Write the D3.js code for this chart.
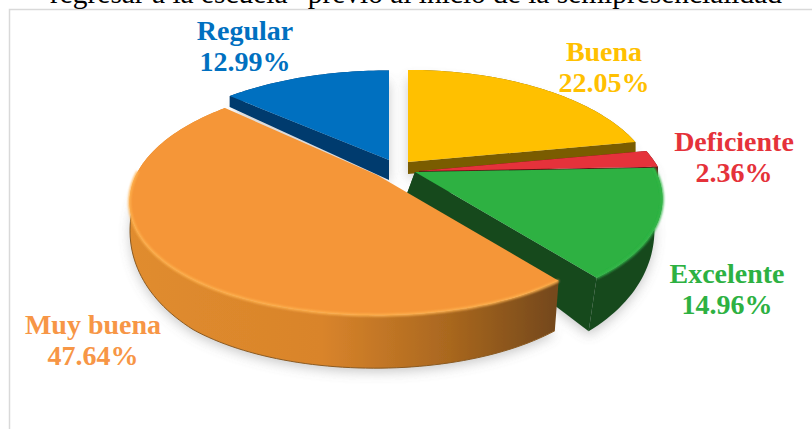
<!DOCTYPE html>
<html><head><meta charset="utf-8">
<style>html,body{margin:0;padding:0;background:#fff;overflow:hidden}svg{display:block}text{font-family:"Liberation Serif",serif}</style>
<script src="https://cdn.jsdelivr.net/npm/d3@7/dist/d3.min.js"></script>
</head><body><svg id="c" width="812" height="429"></svg>
<script>
const categories=["Buena","Deficiente","Excelente","Muy buena","Regular"];
const values=[22.05,2.36,14.96,47.64,12.99];
const titleText="regresar a la escuela\u201D previo al inicio de la semipresencialidad";
const topColors=["#ffc000","#e5323a","#2db142","#f59638","#0070c0"];
const wallColors=["#7a5c00","#5e1414","#17491f","#c67a28","#003a6e"];
const rimColors=["#ffd040","#f06060","#35b84a","#ffb24f","#1f86d0"];
const labelColors=["#ffc000","#e5323a","#2db142","#f79646","#0070c0"];
const apexX=[408,419,415,377,389];
const apexY=[162,171,172,175,160];
const persp=[0.227,0.227,0.227,0.227,0.15];
const radiusY=[113,113,113,113,103];
const depthMul=[0.6,0.5,1.07,1,1];
const shrink=[1,1,1,0.99,1];
const lean=[0,0,-8,-2,0];
const labelX=[604,734,727,93,245];
const labelY=[61,151,283,334,40];

const svg=d3.select("#c");
const defs=svg.append("defs");
defs.append("filter").attr("id","soft").append("feGaussianBlur").attr("stdDeviation",0.5);
const s5=defs.append("filter").attr("id","shadow").attr("x","-20%").attr("y","-20%").attr("width","140%").attr("height","140%");
s5.append("feGaussianBlur").attr("stdDeviation",6);
defs.append("filter").attr("id","rim").attr("x","-10%").attr("y","-10%").attr("width","120%").attr("height","120%").append("feGaussianBlur").attr("stdDeviation",1.2);
const og=defs.append("linearGradient").attr("id","wall3").attr("gradientUnits","userSpaceOnUse").attr("x1",130).attr("x2",556).attr("y1",0).attr("y2",0);
[[0,"#e08c2e"],[0.45,"#d9842b"],[0.75,"#a9671f"],[1,"#74481a"]].forEach(d=>og.append("stop").attr("offset",d[0]).attr("stop-color",d[1]));

// frame
svg.append("path").attr("d","M9.5,429V9.5H812").attr("fill","none").attr("stroke","#d9d9d9").attr("stroke-width",1.5);
svg.append("text").attr("x",416).attr("y",3).attr("text-anchor","middle").attr("font-size",29.4).attr("fill","#000").text(titleText);

// perspective projection of the pie plane
const Rx=241;
const depth=d3.scaleLinear().domain([-1,0,0.78,1]).range([7,20,50,53]);
const project=(a,r,i)=>{const u=r*Math.sin(a),v=-r*Math.cos(a),w=1-persp[i]*v;
  const flat=v>0?6*Math.pow(v,4):0;
  return [apexX[i]+Rx*u/w,apexY[i]+radiusY[i]*v/w-flat,v];};
const lower=(p,i)=>[apexX[i]+(p[0]-apexX[i])*shrink[i]+lean[i],p[1]+depth(p[2])*depthMul[i]];
const line=d3.line();
const arcs=d3.pie().sort(null).value(d=>d)(values);
const arcPts=(d,i)=>{const n=Math.max(4,Math.ceil((d.endAngle-d.startAngle)*40));
  return d3.range(n+1).map(k=>project(d.startAngle+(d.endAngle-d.startAngle)*k/n,1,i));};
const order=[4,0,1,2,3];
const pie=svg.append("g").attr("filter","url(#soft)");

// soft shadows under the pie
const sh=pie.append("g").attr("filter","url(#shadow)").attr("opacity",0.45);
order.forEach(i=>{const d=arcs[i],pts=arcPts(d,i).map(p=>lower(p,i));
  const o=lower(project(0,0,i),i);
  sh.append("path").attr("d",line([o,...pts].map(p=>[p[0],p[1]+4]))+"Z").attr("fill","#8a8a8a");});

order.forEach(i=>{const d=arcs[i],pts=arcPts(d,i),low=pts.map(p=>lower(p,i));
  const g=pie.append("g");
  const wall=i===3?"url(#wall3)":wallColors[i];
  const o=project(0,0,i),ol=lower(o,i);
  g.append("path").attr("d",line([...pts,...low.slice().reverse()])+"Z").attr("fill",wall);
  if(i===3) g.append("path").attr("d",line(low)).attr("fill","none").attr("stroke","#8a5a22").attr("stroke-width",1);
  [0,pts.length-1].forEach(e=>{
    g.append("path").attr("d",line([o,pts[e],low[e],ol])+"Z").attr("fill",i===3?"none":wallColors[i]);
  });
  g.append("path").attr("d",line([o,...pts])+"Z").attr("fill",topColors[i]);
  const near=pts.filter(p=>p[2]>-0.05);
  if(near.length>1&&(i===3||i===2))
    g.append("path").attr("d",line(near)).attr("fill","none").attr("stroke",rimColors[i]).attr("stroke-width",2.5).attr("filter","url(#rim)");
});

// labels
categories.forEach((c,i)=>{
  const t=svg.append("g").attr("fill",labelColors[i]).attr("font-weight","bold").attr("font-size",28).attr("text-anchor","middle");
  t.append("text").attr("x",labelX[i]).attr("y",labelY[i]).text(c);
  t.append("text").attr("x",labelX[i]).attr("y",labelY[i]+31).text(values[i].toFixed(2)+"%");
});
</script></body></html>
